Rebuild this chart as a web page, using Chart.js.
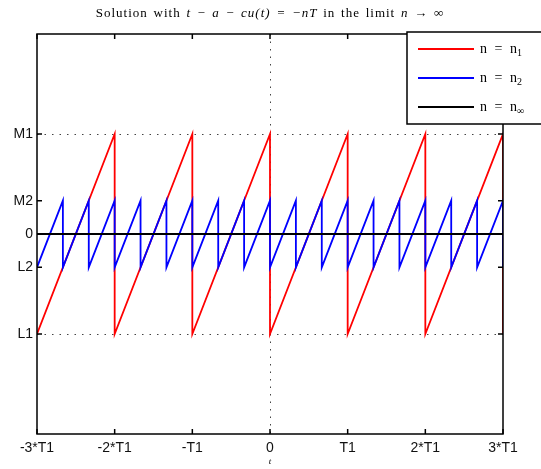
<!DOCTYPE html>
<html>
<head>
<meta charset="utf-8">
<script src="https://cdn.jsdelivr.net/npm/chart.js@4.4.1/dist/chart.umd.min.js"></script>
<style>
  html, body { margin: 0; padding: 0; background: #fff; }
  #wrap { width: 541px; height: 469px; }
</style>
</head>
<body>
<div id="wrap"><canvas id="sawChart" width="541" height="469"></canvas></div>
<script>
// x in units of T1/3, y levels: M1 = 3, M2 = 1, L2 = -1, L1 = -3
var xTickValues = [-9, -6, -3, 0, 3, 6, 9];
var xTickLabels = ['-3*T1', '-2*T1', '-T1', '0', 'T1', '2*T1', '3*T1'];
var yTickValues = [-3, -1, 0, 1, 3];
var yTickLabels = ['L1', 'L2', '0', 'M2', 'M1'];

// dotted reference lines
var gridX = [0];
var gridY = [-3, 3];

// title pieces: [text, italic]
var titleParts = [
    ['Solution with ', false],
    ['t \u2212 a \u2212 cu(t) = \u2212nT', true],
    [' in the limit ', false],
    ['n \u2192 \u221e', true]
];

// legend labels: main text + subscript
var seriesNames = [['n = n', '1'], ['n = n', '2'], ['n = n', '\u221e']];
var seriesColors = ['#ff0000', '#0000ff', '#000000'];

// n = n1 : sawtooth L1 -> M1, period T1
var n1X = [-9, -6, -6, -3, -3, 0, 0, 3, 3, 6, 6, 9, 9];
var n1Y = [-3, 3, -3, 3, -3, 3, -3, 3, -3, 3, -3, 3, -3];

// n = n2 : sawtooth L2 -> M2, period T1/3
var n2X = [-9, -8, -8, -7, -7, -6, -6, -5, -5, -4, -4, -3, -3, -2, -2, -1, -1, 0, 0,
           1, 1, 2, 2, 3, 3, 4, 4, 5, 5, 6, 6, 7, 7, 8, 8, 9, 9];
var n2Y = [-1, 1, -1, 1, -1, 1, -1, 1, -1, 1, -1, 1, -1, 1, -1, 1, -1, 1, -1,
           1, -1, 1, -1, 1, -1, 1, -1, 1, -1, 1, -1, 1, -1, 1, -1, 1, -1];

// n = n_inf : flat at 0
var ninfX = [-9, 9];
var ninfY = [0, 0];

function toPoints(xs, ys) {
    return xs.map(function(x, i) { return { x: x, y: ys[i] }; });
}

var axisFont = { family: "'Liberation Sans', Arial, sans-serif", size: 14 };
var serif = "'Liberation Serif', 'DejaVu Serif', serif";

/**
 * 标题、画框、向内刻度、虚线网格、图例
 */
var matlabLook = {
    id: 'matlabLook',
    beforeDatasetsDraw: function(chart) {
        var ctx = chart.ctx, a = chart.chartArea;
        var xs = chart.scales.x, ys = chart.scales.y;
        ctx.save();
        ctx.strokeStyle = '#444';
        ctx.lineWidth = 1;
        ctx.setLineDash([1.5, 6]);
        gridY.forEach(function(v) {
            var py = Math.round(ys.getPixelForValue(v)) + 0.5;
            ctx.beginPath(); ctx.moveTo(a.left, py); ctx.lineTo(a.right, py); ctx.stroke();
        });
        gridX.forEach(function(v) {
            var px = Math.round(xs.getPixelForValue(v)) + 0.5;
            ctx.beginPath(); ctx.moveTo(px, a.top); ctx.lineTo(px, a.bottom); ctx.stroke();
        });
        ctx.restore();
    },
    afterDatasetsDraw: function(chart) {
        var ctx = chart.ctx, a = chart.chartArea;
        var xs = chart.scales.x, ys = chart.scales.y;
        var tl = 5;
        ctx.save();
        ctx.strokeStyle = '#000';
        ctx.lineWidth = 1.5;
        ctx.strokeRect(a.left, a.top, a.right - a.left, a.bottom - a.top);
        ctx.beginPath();
        xTickValues.forEach(function(v) {
            var px = xs.getPixelForValue(v);
            ctx.moveTo(px, a.bottom); ctx.lineTo(px, a.bottom - tl);
            ctx.moveTo(px, a.top); ctx.lineTo(px, a.top + tl);
        });
        yTickValues.forEach(function(v) {
            var py = ys.getPixelForValue(v);
            ctx.moveTo(a.left, py); ctx.lineTo(a.left + tl, py);
            ctx.moveTo(a.right, py); ctx.lineTo(a.right - tl, py);
        });
        ctx.stroke();
        ctx.restore();
    },
    afterDraw: function(chart) {
        var ctx = chart.ctx, a = chart.chartArea;
        ctx.save();

        // 标题
        ctx.fillStyle = '#000';
        ctx.textBaseline = 'middle';
        ctx.letterSpacing = '1px';
        ctx.wordSpacing = '1.5px';
        function partFont(it) { return (it ? 'italic ' : '') + '13px ' + serif; }
        var total = 0;
        titleParts.forEach(function(p) {
            ctx.font = partFont(p[1]);
            total += ctx.measureText(p[0]).width;
        });
        var tx = (a.left + a.right) / 2 - total / 2;
        titleParts.forEach(function(p) {
            ctx.font = partFont(p[1]);
            ctx.fillText(p[0], tx, 14);
            tx += ctx.measureText(p[0]).width;
        });
        ctx.letterSpacing = '0px';

        // 图例
        var bx = a.right - 96, by = a.top - 2, bw = 140, bh = 92;
        ctx.fillStyle = '#fff';
        ctx.fillRect(bx, by, bw, bh);
        ctx.strokeStyle = '#000';
        ctx.lineWidth = 1.5;
        ctx.strokeRect(bx, by, bw, bh);
        ctx.wordSpacing = '4px';
        seriesNames.forEach(function(name, i) {
            var ly = by + 17 + i * 29;
            ctx.strokeStyle = seriesColors[i];
            ctx.lineWidth = 1.8;
            ctx.beginPath(); ctx.moveTo(bx + 11, ly); ctx.lineTo(bx + 67, ly); ctx.stroke();
            ctx.fillStyle = '#000';
            ctx.font = '14px ' + serif;
            ctx.fillText(name[0], bx + 73, ly);
            var w = ctx.measureText(name[0]).width;
            ctx.font = '10px ' + serif;
            ctx.fillText(name[1], bx + 73 + w, ly + 4);
        });
        ctx.restore();
    }
};

function initSawChart() {
    var ctx = document.getElementById('sawChart');
    if (!ctx) return;

    new Chart(ctx, {
        type: 'line',
        data: {
            datasets: [{
                label: seriesNames[0].join(''),
                data: toPoints(n1X, n1Y),
                borderColor: seriesColors[0],
                borderWidth: 1.8,
                order: 3
            }, {
                label: seriesNames[1].join(''),
                data: toPoints(n2X, n2Y),
                borderColor: seriesColors[1],
                borderWidth: 1.8,
                order: 2
            }, {
                label: seriesNames[2].join(''),
                data: toPoints(ninfX, ninfY),
                borderColor: seriesColors[2],
                borderWidth: 1.8,
                order: 1
            }]
        },
        options: {
            responsive: false,
            animation: false,
            layout: { padding: { top: 34, right: 38, left: 0, bottom: 0 } },
            elements: {
                point: { radius: 0 },
                line: { tension: 0, fill: false }
            },
            plugins: {
                legend: { display: false },
                tooltip: { enabled: false },
                title: { display: false }
            },
            scales: {
                x: {
                    type: 'linear',
                    min: -9,
                    max: 9,
                    afterBuildTicks: function(scale) {
                        scale.ticks = xTickValues.map(function(v) { return { value: v }; });
                    },
                    afterFit: function(scale) { scale.height = 35; },
                    grid: { display: false, drawTicks: false },
                    border: { display: false },
                    ticks: {
                        autoSkip: false,
                        maxRotation: 0,
                        padding: 6,
                        color: '#111',
                        font: axisFont,
                        callback: function(v) { return xTickLabels[xTickValues.indexOf(v)]; }
                    },
                    title: {
                        display: true,
                        text: 't',
                        color: '#000',
                        font: { family: serif, size: 9, style: 'italic' },
                        padding: { top: 0, bottom: 2 }
                    }
                },
                y: {
                    type: 'linear',
                    min: -6,
                    max: 6,
                    afterBuildTicks: function(scale) {
                        scale.ticks = yTickValues.map(function(v) { return { value: v }; });
                    },
                    afterFit: function(scale) { scale.width = 37; },
                    grid: { display: false, drawTicks: false },
                    border: { display: false },
                    ticks: {
                        autoSkip: false,
                        padding: 4,
                        color: '#111',
                        font: axisFont,
                        callback: function(v) { return yTickLabels[yTickValues.indexOf(v)]; }
                    }
                }
            }
        },
        plugins: [matlabLook]
    });
}

document.addEventListener('DOMContentLoaded', initSawChart);
</script>
</body>
</html>
